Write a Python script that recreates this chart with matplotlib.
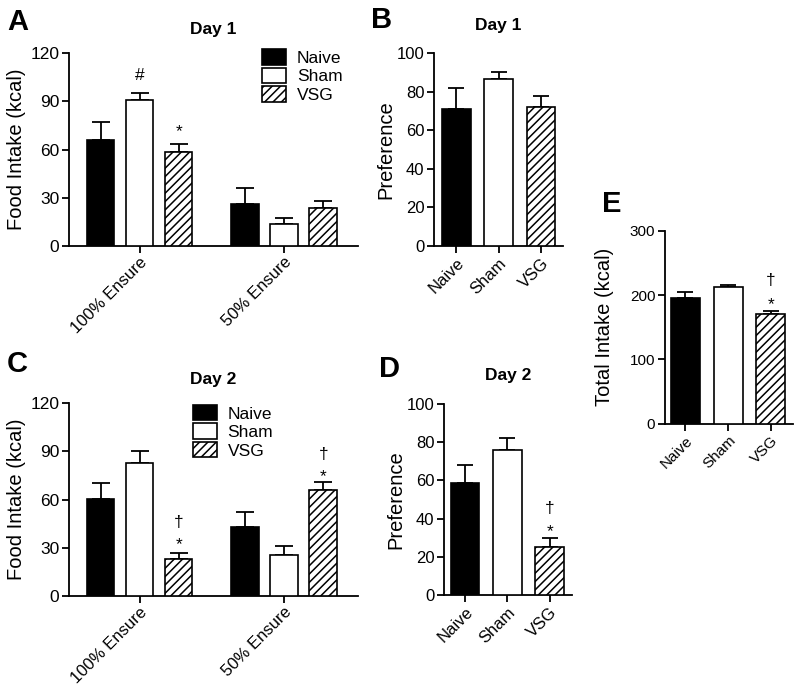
import matplotlib
matplotlib.use('Agg')
from matplotlib import pyplot as plt
import numpy as np

plt.rcParams['font.family'] = ['Liberation Sans', 'DejaVu Sans']
plt.rcParams['hatch.linewidth'] = 1.1
plt.rcParams['axes.linewidth'] = 1.3

groups = ['Naive', 'Sham', 'VSG']
ensure_labels = ['100% Ensure', '50% Ensure']

# panel A - day 1 food intake (kcal), [100% Ensure, 50% Ensure]
day1_intake = {'Naive': [66, 26], 'Sham': [91, 13.7], 'VSG': [58.6, 23.4]}
day1_intake_sem = {'Naive': [11.3, 10], 'Sham': [4, 3.5], 'VSG': [4.8, 4.6]}

# panel B - day 1 preference
day1_pref = [70.9, 86.7, 71.8]
day1_pref_sem = [10.8, 3.6, 5.7]

# panel C - day 2 food intake (kcal)
day2_intake = {'Naive': [60.3, 43.1], 'Sham': [82.5, 25.5], 'VSG': [22.8, 66]}
day2_intake_sem = {'Naive': [9.7, 9.3], 'Sham': [7.9, 5.8], 'VSG': [4.1, 5.1]}

# panel D - day 2 preference
day2_pref = [58.8, 75.9, 25]
day2_pref_sem = [9.2, 6.1, 4.7]

# panel E - total intake (kcal)
total_intake = [194.7, 211.8, 170.3]
total_intake_sem = [9.8, 3.6, 5.1]

STYLES = {'Naive': dict(facecolor='black', hatch=None),
          'Sham': dict(facecolor='white', hatch=None),
          'VSG': dict(facecolor='white', hatch='////')}


def style_axis(ax, yticks, labelsize):
    ax.spines['top'].set_visible(False)
    ax.spines['right'].set_visible(False)
    ax.set_yticks(yticks)
    ax.set_ylim(yticks[0], yticks[-1])
    ax.tick_params(axis='both', direction='out', length=5, width=1.3, labelsize=labelsize, pad=2)


def draw_bar(ax, x, height, sem, group, width, capsize):
    st = STYLES[group]
    b = ax.bar(x, height, width, facecolor=st['facecolor'], edgecolor='black',
               linewidth=1.2, hatch=st['hatch'], label=group, zorder=3)
    ax.errorbar(x, height, yerr=[[0] * len(np.atleast_1d(height)), sem], fmt='none',
                ecolor='black', elinewidth=1.3, capsize=capsize, capthick=1.3, zorder=2)
    return b


def intake_panel(ax, values, sems, title, legend_pos):
    offset = 0.27
    width = 0.19
    x = np.arange(len(ensure_labels))
    for i, g in enumerate(groups):
        draw_bar(ax, x + (i - 1) * offset, values[g], sems[g], g, width, 6.5)
    ax.set_xlim(-0.49, 1.51)
    style_axis(ax, [0, 30, 60, 90, 120], 12.5)
    ax.set_xticks(x)
    ax.set_xticklabels(ensure_labels, rotation=45, ha='right', rotation_mode='anchor', fontsize=12)
    ax.tick_params(axis='x', pad=1)
    ax.set_ylabel('Food Intake (kcal)', fontsize=14.5)
    ax.yaxis.set_label_coords(-0.149, 0.5)
    ax.set_title(title, fontsize=12.5, fontweight='bold', pad=14)
    ax.legend(loc='upper left', bbox_to_anchor=legend_pos, frameon=False, fontsize=12.5,
              handlelength=1.38, handleheight=1.0, handletextpad=0.6, labelspacing=0.1,
              borderpad=0, borderaxespad=0)
    return offset


def group_panel(ax, values, sems, yticks, ylabel, xlim, label_x, labelsize=12,
                title=None, title_pad=16):
    for i, g in enumerate(groups):
        draw_bar(ax, [i], [values[i]], [sems[i]], g, 0.68, 5.5)
    ax.set_xlim(*xlim)
    style_axis(ax, yticks, labelsize)
    ax.set_xticks(range(len(groups)))
    ax.set_xticklabels(groups, rotation=45, ha='right', rotation_mode='anchor', fontsize=labelsize)
    ax.set_ylabel(ylabel, fontsize=14.5)
    ax.yaxis.set_label_coords(label_x, 0.5)
    if title:
        ax.set_title(title, fontsize=12.5, fontweight='bold', pad=title_pad)


fig = plt.figure(figsize=(8, 6.88), dpi=100)

axA = fig.add_axes([0.08625, 0.6424, 0.361, 0.2805])
axB = fig.add_axes([0.5425, 0.6424, 0.16125, 0.2805])
axC = fig.add_axes([0.08625, 0.1337, 0.361, 0.2805])
axD = fig.add_axes([0.555, 0.1352, 0.1596, 0.2776])
axE = fig.add_axes([0.83125, 0.3844, 0.1596, 0.2802])

off = intake_panel(axA, day1_intake, day1_intake_sem, 'Day 1', (0.67, 1.02))
intake_panel(axC, day2_intake, day2_intake_sem, 'Day 2', (0.43, 0.99))
group_panel(axB, day1_pref, day1_pref_sem, [0, 20, 40, 60, 80, 100], 'Preference',
            (-0.525, 2.52), -0.30, title='Day 1', title_pad=16.5)
group_panel(axD, day2_pref, day2_pref_sem, [0, 20, 40, 60, 80, 100], 'Preference',
            (-0.495, 2.52), -0.305, title='Day 2', title_pad=17)
group_panel(axE, total_intake, total_intake_sem, [0, 100, 200, 300], 'Total Intake (kcal)',
            (-0.48, 2.51), -0.40, labelsize=11)

# significance marks
mark_kw = dict(ha='center', va='center', fontsize=12.5)
axA.text(0, 106, '#', **mark_kw)
axA.text(off, 71, '*', **mark_kw)
axC.text(off, 46, '\u2020', **mark_kw)
axC.text(off, 32, '*', **mark_kw)
axC.text(1 + off, 88, '\u2020', **mark_kw)
axC.text(1 + off, 74.5, '*', **mark_kw)
axD.text(2, 45.4, '\u2020', **mark_kw)
axD.text(2, 33, '*', **mark_kw)
axE.text(2, 223, '\u2020', **mark_kw)
axE.text(2, 185, '*', **mark_kw)

# panel letters (left edge, baseline in pixels from the top)
for letter, (x, y) in {'A': (7, 30), 'B': (371, 28), 'C': (7, 372), 'D': (379, 377),
                       'E': (602, 212)}.items():
    fig.text(x / 800, 1 - y / 688, letter, fontsize=21, fontweight='bold', ha='left', va='baseline')

fig.savefig('out.png', dpi=100)
